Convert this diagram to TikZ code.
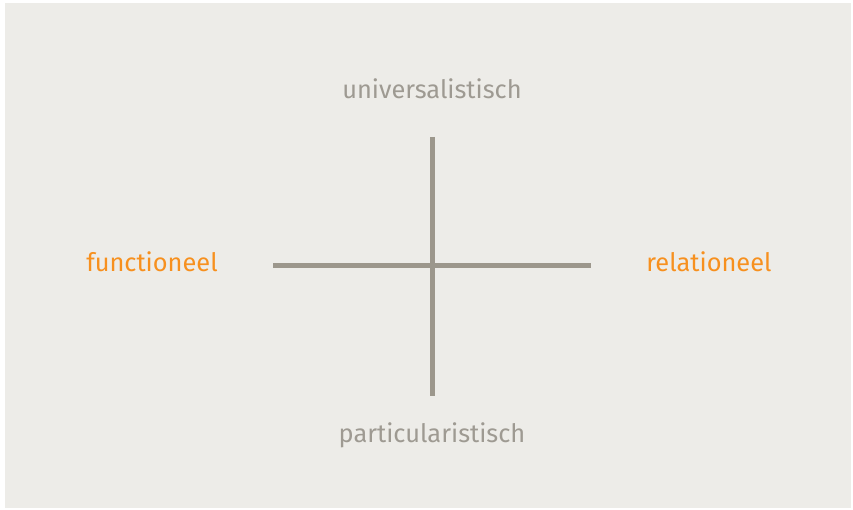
\documentclass[tikz,border=0pt]{standalone}
\usepackage{fontspec}
\setmainfont{Fira Sans}
\definecolor{bg}{HTML}{EDECE8}
\definecolor{axis}{HTML}{9C978C}
\definecolor{lbl}{HTML}{9E9A92}
\definecolor{org}{HTML}{F7901E}
\begin{document}
\begin{tikzpicture}[x=1pt,y=-1pt,
  axisline/.style={draw=axis,line width=5pt},
  vlabel/.style={text=lbl,font=\fontsize{25.4}{30}\selectfont,inner sep=0pt},
  hlabel/.style={text=org,font=\fontsize{25.4}{30}\selectfont,inner sep=0pt}]
\useasboundingbox (0,0) rectangle (853,510);
\fill[white] (0,0) rectangle (853,510);
\fill[bg] (5,3) rectangle (851,508);
\coordinate (vt) at (432,137);
\coordinate (vb) at (432,396);
\coordinate (hl) at (273,266);
\coordinate (hr) at (591,266);
\draw[axisline] (vt) -- (vb);
\draw[axisline] (hl) -- (hr);
\node[vlabel] (top) at (432,89) {universalistisch};
\node[vlabel] (bot) at (432,435) {particularistisch};
\node[hlabel] (left) at (152,262) {functioneel};
\node[hlabel] (right) at (709,262) {relationeel};
\end{tikzpicture}
\end{document}
